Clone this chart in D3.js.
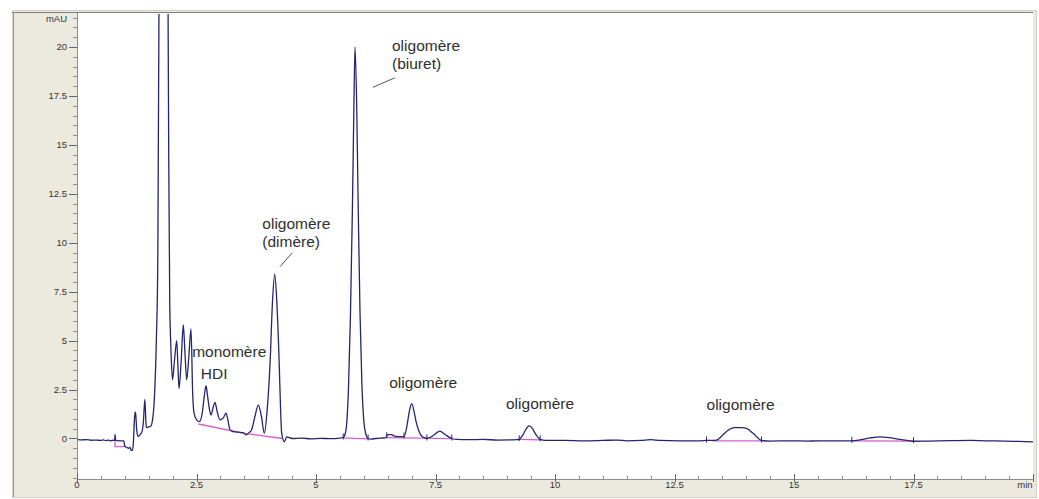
<!DOCTYPE html>
<html><head><meta charset="utf-8">
<script src="https://cdn.jsdelivr.net/npm/d3@7"></script>
<style>
body{margin:0;background:#fff;}
svg{display:block;}
text{font-family:"Liberation Sans",Arial,sans-serif;}
</style>
</head><body>
<svg id="chart" width="1039" height="499"></svg>
<script>
// ---------- data ----------
const xTickValues = [0, 2.5, 5, 7.5, 10, 12.5, 15, 17.5, 20];
const xTickLabels = ["0", "2.5", "5", "7.5", "10", "12.5", "15", "17.5", "min"];
const yTickValues = [0, 2.5, 5, 7.5, 10, 12.5, 15, 17.5, 20];
const yTickLabels = ["0", "2.5", "5", "7.5", "10", "12.5", "15", "17.5", "20"];
const yUnitLabel = "mAU";

// trace: [time (min), signal (mAU)]
const traceStart = [[0,-0.05],[0.1,-0.07],[0.2,-0.06],[0.3,-0.09],[0.4,-0.08],[0.5,-0.1],[0.55,-0.07],[0.6,-0.11],[0.65,-0.08],[0.7,-0.12],[0.75,-0.09],[0.79,-0.1],[0.80,0.15],[0.81,-0.1],[0.9,-0.12],[0.98,-0.12],[1.0,-0.4],[1.04,-0.45],[1.08,-0.5],[1.11,-0.45],[1.13,-0.6],[1.16,-0.6],[1.18,-0.2],[1.20,0.9],[1.215,1.36],[1.23,1.2],[1.25,0.4],[1.28,0.1],[1.32,0.2],[1.36,0.35],[1.39,0.9],[1.42,2.0],[1.445,0.7],[1.46,0.55],[1.50,0.6],[1.54,0.62],[1.58,0.95]];
const traceSolventPeak = [[1.62,2.1],[1.66,5],[1.69,9],[1.70,14],[1.715,22],[1.76,50],[1.81,70],[1.86,50],[1.905,22],[1.92,14],[1.94,7],[1.955,5.3],[1.97,4.2]];
const traceCluster = [[1.998,3.0],[2.04,4.0],[2.086,5.0],[2.11,3.8],[2.134,2.55],[2.18,4.0],[2.224,5.8],[2.26,4.3],[2.295,3.0],[2.34,4.2],[2.385,5.6],[2.42,2.3],[2.448,1.3],[2.504,0.95],[2.559,0.86],[2.62,1.3],[2.665,2.2],[2.699,2.7],[2.73,2.2],[2.77,1.5],[2.803,1.2],[2.85,1.6],[2.887,1.85],[2.93,1.4],[2.992,0.95],[3.06,1.05],[3.117,1.3],[3.16,0.9],[3.201,0.45],[3.264,0.35],[3.35,0.33],[3.45,0.3],[3.494,0.28],[3.529,0.18],[3.6,0.3],[3.655,0.45],[3.72,1.1],[3.793,1.7],[3.86,1.1],[3.918,0.27]];
const traceDimer = [[3.98,1.5],[4.04,3.9],[4.09,7.0],[4.136,8.4],[4.18,7.0],[4.232,3.7],[4.26,1.4],[4.282,0.27],[4.337,-0.17],[4.387,0.08],[4.5,0.0],[4.7,0.02],[4.9,-0.02],[5.1,0.01],[5.3,-0.01],[5.5,0.02],[5.57,0.05]];
const traceBiuret = [[5.60,0.15],[5.64,0.7],[5.68,2.6],[5.72,6.2],[5.76,11.5],[5.79,16.5],[5.816,20.0],[5.85,17.2],[5.88,12.3],[5.92,6.5],[5.96,2.8],[6.00,0.9],[6.04,0.25],[6.09,0.0],[6.15,-0.03],[6.25,0.0],[6.35,0.02],[6.45,0.03]];
const traceLate = [[6.51,0.2],[6.58,0.2],[6.64,0.12],[6.72,0.1],[6.78,0.1],[6.84,0.1],[6.90,0.6],[6.95,1.35],[7.0,1.78],[7.05,1.4],[7.09,0.9],[7.15,0.4],[7.22,0.1],[7.32,0.0],[7.38,0.05],[7.48,0.2],[7.59,0.38],[7.7,0.2],[7.84,0.0],[7.95,-0.05],[8.2,-0.06],[8.5,-0.05],[8.8,-0.08],[9.1,-0.07],[9.2,-0.06],[9.25,-0.04],[9.32,0.15],[9.40,0.5],[9.46,0.64],[9.53,0.5],[9.6,0.2],[9.69,-0.05],[9.8,-0.1],[10.2,-0.1],[10.6,-0.12],[11.0,-0.1],[11.3,-0.08],[11.5,-0.12],[11.8,-0.1],[12.0,-0.06],[12.2,-0.1],[12.6,-0.12],[13.0,-0.12],[13.17,-0.1],[13.38,-0.08],[13.5,0.15],[13.62,0.42],[13.75,0.55],[13.9,0.56],[14.02,0.5],[14.15,0.25],[14.32,-0.1],[14.5,-0.13],[14.9,-0.12],[15.3,-0.13],[15.8,-0.12],[16.21,-0.12],[16.4,-0.06],[16.6,0.03],[16.8,0.08],[17.0,0.04],[17.25,-0.06],[17.5,-0.14],[17.8,-0.13],[18.3,-0.11],[18.7,-0.1],[19.0,-0.12],[19.4,-0.13],[19.7,-0.15],[20,-0.17]];

// integration baselines (magenta)
const integrationBaselines = [
  [[0.795,-0.1],[0.795,-0.42],[1.0,-0.42]],
  [[2.54,0.74],[3.53,0.25],[4.30,0.0]],
  [[5.57,0.03],[6.09,-0.02]],
  [[6.48,0.04],[7.84,-0.01]],
  [[9.25,-0.05],[9.69,-0.07]],
  [[13.3,-0.12],[14.35,-0.12]],
  [[16.2,-0.12],[17.5,-0.13]]
];
// peak start/stop marks (min)
const peakMarks = [0.795, 5.57, 6.09, 6.48, 6.84, 7.32, 7.84, 9.25, 9.69, 13.17, 14.32, 16.21, 17.5];

// annotation texts
const annotBiuret = ["oligomère", "(biuret)"];
const annotDimer = ["oligomère", "(dimère)"];
const annotMonomer = ["monomère", "HDI"];
const annotOligo = ["oligomère", "oligomère", "oligomère"];

// ---------- drawing ----------
const svg = d3.select("#chart");
const W = 1039, H = 499;
const plot = {left: 77, right: 1033, top: 13, bottom: 479};

const x = d3.scaleLinear().domain([0, 20]).range([plot.left, plot.right]);
const y = d3.scaleLinear().domain([-2.07, 21.74]).range([plot.bottom, plot.top]);

// frame panel
svg.append("rect").attr("x", 12.5).attr("y", 10.5).attr("width", 1024).attr("height", 487)
  .attr("fill", "#ECEADF").attr("stroke", "#d2d0c6");
svg.append("rect").attr("x", plot.left).attr("y", plot.top)
  .attr("width", plot.right - plot.left).attr("height", plot.bottom - plot.top)
  .attr("fill", "#ffffff");
svg.append("line").attr("x1", 12).attr("x2", plot.right).attr("y1", 12.5).attr("y2", 12.5)
  .attr("stroke", "#7d7d7d").attr("stroke-width", 1);
svg.append("line").attr("x1", 13.5).attr("x2", 13.5).attr("y1", 12).attr("y2", 497)
  .attr("stroke", "#9a9a94").attr("stroke-width", 1);

// axes
const axisColor = "#8c8c8c";
const yMinor = d3.range(-2, 21.75, 0.5);
const xMinor = d3.range(0, 20.01, 0.5);

const yAxis = svg.append("g").attr("transform", `translate(${plot.left},0)`);
yAxis.append("line").attr("x1", 0.5).attr("x2", 0.5).attr("y1", plot.top).attr("y2", plot.bottom)
  .attr("stroke", axisColor);
yAxis.selectAll("line.minor").data(yMinor).join("line").attr("class", "minor")
  .attr("x1", -4).attr("x2", 0).attr("y1", d => Math.round(y(d)) + 0.5).attr("y2", d => Math.round(y(d)) + 0.5)
  .attr("stroke", axisColor);
yAxis.selectAll("line.major").data(yTickValues).join("line").attr("class", "major")
  .attr("x1", -8).attr("x2", 0).attr("y1", d => Math.round(y(d)) + 0.5).attr("y2", d => Math.round(y(d)) + 0.5)
  .attr("stroke", "#666");
yAxis.selectAll("text.tl").data(yTickValues).join("text").attr("class", "tl")
  .attr("x", -10).attr("y", d => y(d)).attr("dy", "0.35em")
  .attr("text-anchor", "end").attr("font-size", "9.5px").attr("fill", "#333")
  .text((d, i) => yTickLabels[i]);
yAxis.append("text").attr("x", -10).attr("y", 19).attr("dy", "0.35em")
  .attr("text-anchor", "end").attr("font-size", "9.5px").attr("fill", "#333").text(yUnitLabel);

const xAxis = svg.append("g").attr("transform", `translate(0,${plot.bottom})`);
xAxis.append("line").attr("x1", plot.left).attr("x2", plot.right).attr("y1", 0.5).attr("y2", 0.5)
  .attr("stroke", axisColor);
xAxis.selectAll("line.minor").data(xMinor).join("line").attr("class", "minor")
  .attr("x1", d => Math.round(x(d)) + 0.5).attr("x2", d => Math.round(x(d)) + 0.5)
  .attr("y1", -3).attr("y2", 1).attr("stroke", axisColor);
xAxis.selectAll("line.major").data(xTickValues).join("line").attr("class", "major")
  .attr("x1", d => Math.round(x(d)) + 0.5).attr("x2", d => Math.round(x(d)) + 0.5)
  .attr("y1", -5).attr("y2", 3).attr("stroke", "#666");
xAxis.selectAll("text.tl").data(xTickValues).join("text").attr("class", "tl")
  .attr("x", (d, i) => i === xTickValues.length - 1 ? x(d) - 8 : x(d)).attr("y", 9)
  .attr("text-anchor", "middle").attr("font-size", "9.5px").attr("fill", "#333")
  .text((d, i) => xTickLabels[i]);

// clip
svg.append("clipPath").attr("id", "clip").append("rect")
  .attr("x", plot.left + 1).attr("y", plot.top + 1)
  .attr("width", plot.right - plot.left - 1).attr("height", plot.bottom - plot.top - 1);

const g = svg.append("g").attr("clip-path", "url(#clip)");

const trace = [].concat(traceStart, traceSolventPeak, traceCluster, traceDimer, traceBiuret, traceLate);
const line = d3.line().x(d => x(d[0])).y(d => y(d[1])).curve(d3.curveMonotoneX);

g.selectAll("path.base").data(integrationBaselines).join("path").attr("class", "base")
  .attr("d", d3.line().x(d => x(d[0])).y(d => y(d[1])))
  .attr("fill", "none").attr("stroke", "#d65ccc").attr("stroke-width", 1.3);

g.append("path").datum(trace).attr("d", line)
  .attr("fill", "none").attr("stroke", "#25256e").attr("stroke-width", 1.3)
  .attr("stroke-linejoin", "round");

const bis = d3.bisector(d => d[0]).left;
function valueAt(t) {
  const i = Math.max(1, Math.min(trace.length - 1, bis(trace, t)));
  const a = trace[i - 1], b = trace[i];
  const f = (t - a[0]) / (b[0] - a[0] || 1);
  return a[1] + f * (b[1] - a[1]);
}
g.selectAll("line.mark").data(peakMarks).join("line").attr("class", "mark")
  .attr("x1", d => x(d)).attr("x2", d => x(d))
  .attr("y1", d => y(valueAt(d)) - 4).attr("y2", d => y(valueAt(d)) + 2)
  .attr("stroke", "#25256e").attr("stroke-width", 1);

// annotations
const ann = svg.append("g").attr("font-size", "15.5px").attr("fill", "#2e2e2e");
function multi(lines, t, v, dx) {
  lines.forEach((s, i) => {
    ann.append("text").attr("x", x(t) + (dx ? dx[i] : 0)).attr("y", y(v) + i * 18).text(s);
  });
}
multi(annotBiuret, 6.59, 19.81);
multi(annotDimer, 3.877, 10.69);
ann.append("text").attr("x", x(2.41)).attr("y", y(4.18)).text(annotMonomer[0]);
ann.append("text").attr("x", x(2.59)).attr("y", y(3.03)).text(annotMonomer[1]);
ann.append("text").attr("x", x(6.53)).attr("y", y(2.60)).text(annotOligo[0]);
ann.append("text").attr("x", x(8.975)).attr("y", y(1.49)).text(annotOligo[1]);
ann.append("text").attr("x", x(13.17)).attr("y", y(1.46)).text(annotOligo[2]);

const leaders = [[[6.19, 17.94], [6.65, 18.43]], [[4.247, 8.78], [4.504, 9.49]]];
svg.selectAll("path.leader").data(leaders).join("path").attr("class", "leader")
  .attr("d", d3.line().x(d => x(d[0])).y(d => y(d[1])))
  .attr("stroke", "#555").attr("stroke-width", 1).attr("fill", "none");
</script>
</body></html>
